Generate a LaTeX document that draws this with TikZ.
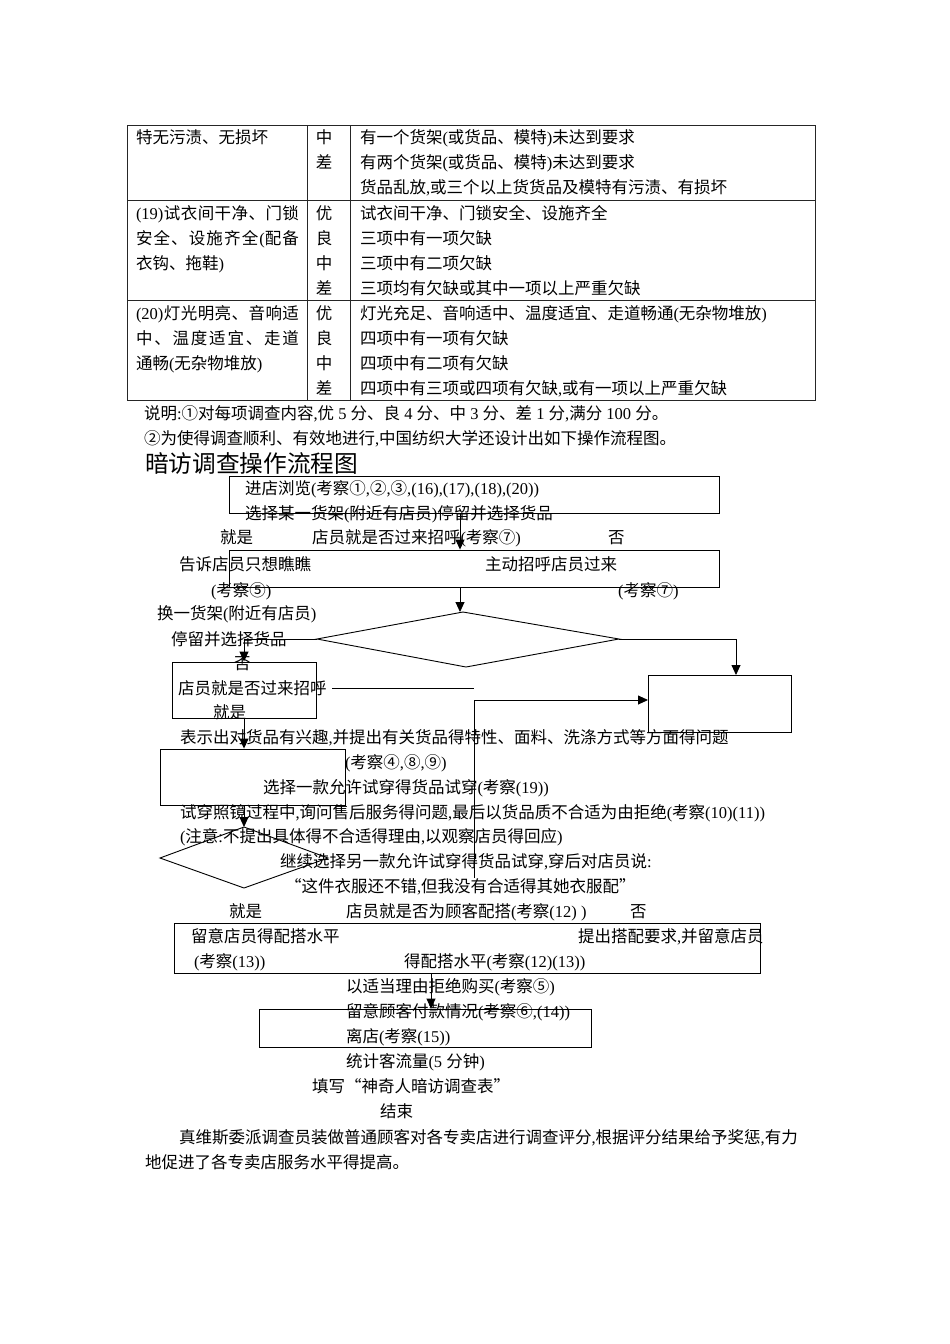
\documentclass[tikz,border=0pt]{standalone}
\usepackage{fontspec}
\setmainfont{Liberation Serif}
\newfontfamily\cjkf{Noto Sans CJK SC}
\newfontfamily\latf{Liberation Serif}
\usetikzlibrary{arrows.meta,fit}
\newXeTeXintercharclass\cjkclass
\makeatletter
\def\setcjkrange#1#2{\count@=#1\relax
  \loop\XeTeXcharclass\count@=\cjkclass\relax
  \ifnum\count@<#2\relax\advance\count@\@ne\repeat}
\setcjkrange{"2460}{"24FF}
\setcjkrange{"3000}{"303F}
\setcjkrange{"4E00}{"9FFF}
\setcjkrange{"FF00}{"FFEF}
\makeatother
\XeTeXcharclass"201C=\cjkclass
\XeTeXcharclass"201D=\cjkclass
\XeTeXinterchartoks 0 \cjkclass = {\cjkf}
\XeTeXinterchartoks 4095 \cjkclass = {\cjkf}
\XeTeXinterchartoks \cjkclass 0 = {\latf}
\XeTeXinterchartoks \cjkclass 4095 = {\latf}
\XeTeXinterchartokenstate=1
\newcommand\fsz{\fontsize{16.5}{20}\selectfont}
\newcommand\txtn[4]{\node[tx] (#1) at (#2,#3+6) {#4};}
\newcommand\ctxtn[4]{\node[txc] (#1) at (#2,#3+6) {#4};}
\newcommand\spr[1]{\makebox[163pt][l]{#1}}
\tikzset{
  tx/.style={anchor=base west, inner sep=0pt, outer sep=0pt, font=\fsz},
  txc/.style={anchor=base, inner sep=0pt, outer sep=0pt, font=\fsz},
  box/.style={draw=black, line width=0.9pt, inner sep=0pt, rectangle},
  arr/.style={line width=0.9pt, -{Triangle[length=10pt,width=9pt]}},
  ln/.style={line width=0.9pt},
  tbl/.style={line width=0.9pt, draw=black!85}
}
\begin{document}
\begin{tikzpicture}[x=1pt,y=-1pt]
\fill[white] (0,0) rectangle (950,1344);
\useasboundingbox (0,0) rectangle (950,1344);
% ---------- table ----------
\draw[tbl] (127,125) rectangle (815,400);
\draw[tbl] (307,125) -- (307,400);
\draw[tbl] (350,125) -- (350,400);
\draw[tbl] (127,200) -- (815,200);
\draw[tbl] (127,300) -- (815,300);
\txtn{r1a}{136}{137}{特无污渍、无损坏}
\ctxtn{r1m1}{324}{137}{中}
\ctxtn{r1m2}{324}{162}{差}
\txtn{r1c1}{360}{137}{有一个货架(或货品、模特)未达到要求}
\txtn{r1c2}{360}{162}{有两个货架(或货品、模特)未达到要求}
\txtn{r1c3}{360}{187}{货品乱放,或三个以上货货品及模特有污渍、有损坏}
\txtn{r2a1}{136}{213}{\spr{(19)\hfill{}试\hfill{}衣\hfill{}间\hfill{}干\hfill{}净\hfill{}、\hfill{}门\hfill{}锁}}
\txtn{r2a2}{136}{238}{\spr{安\hfill{}全\hfill{}、\hfill{}设\hfill{}施\hfill{}齐\hfill{}全\hfill{}(配\hfill{}备}}
\txtn{r2a3}{136}{263}{衣钩、拖鞋)}
\ctxtn{r2m1}{324}{213}{优}
\ctxtn{r2m2}{324}{238}{良}
\ctxtn{r2m3}{324}{263}{中}
\ctxtn{r2m4}{324}{288}{差}
\txtn{r2c1}{360}{213}{试衣间干净、门锁安全、设施齐全}
\txtn{r2c2}{360}{238}{三项中有一项欠缺}
\txtn{r2c3}{360}{263}{三项中有二项欠缺}
\txtn{r2c4}{360}{288}{三项均有欠缺或其中一项以上严重欠缺}
\txtn{r3a1}{136}{313}{\spr{(20)\hfill{}灯\hfill{}光\hfill{}明\hfill{}亮\hfill{}、\hfill{}音\hfill{}响\hfill{}适}}
\txtn{r3a2}{136}{338}{\spr{中\hfill{}、\hfill{}温\hfill{}度\hfill{}适\hfill{}宜\hfill{}、\hfill{}走\hfill{}道}}
\txtn{r3a3}{136}{363}{通畅(无杂物堆放)}
\ctxtn{r3m1}{324}{313}{优}
\ctxtn{r3m2}{324}{338}{良}
\ctxtn{r3m3}{324}{363}{中}
\ctxtn{r3m4}{324}{388}{差}
\txtn{r3c1}{360}{313}{灯光充足、音响适中、温度适宜、走道畅通(无杂物堆放)}
\txtn{r3c2}{360}{338}{四项中有一项有欠缺}
\txtn{r3c3}{360}{363}{四项中有二项有欠缺}
\txtn{r3c4}{360}{388}{四项中有三项或四项有欠缺,或有一项以上严重欠缺}
% ---------- notes ----------
\txtn{n1}{144}{413}{说明:①对每项调查内容,优 5 分、良 4 分、中 3 分、差 1 分,满分 100 分。}
\txtn{n2}{144}{438}{②为使得调查顺利、有效地进行,中国纺织大学还设计出如下操作流程图。}
\node[tx, font=\fontsize{23.7}{28}\selectfont] (title) at (145,463+9) {暗访调查操作流程图};
% ---------- flow boxes ----------
\node[box, fit={(229,476) (719,513)}] (b1) {};
\node[box, fit={(229,550) (719,587)}] (b2) {};
\node[box, fit={(172,662) (316,718)}] (b3) {};
\node[box, fit={(648,675) (791,732)}] (b5) {};
\node[box, fit={(160,749) (345,805)}] (b4) {};
\node[box, fit={(174,923) (760,973)}] (b6) {};
\node[box, fit={(259,1009) (591,1047)}] (b7) {};
% diamonds
\coordinate (d1l) at (317,639);
\coordinate (d1t) at (463,612);
\coordinate (d1r) at (619,639);
\coordinate (d1b) at (466,667);
\draw[ln] (d1l) -- (d1t) -- (d1r) -- (d1b) -- cycle;
\coordinate (d2l) at (160,858);
\coordinate (d2t) at (244,827);
\coordinate (d2r) at (328,858);
\coordinate (d2b) at (244,888);
\draw[ln] (d2l) -- (d2t) -- (d2r) -- (d2b) -- cycle;
% connectors
\coordinate (c1) at (460,513);
\draw[arr] (c1) -- (c1 |- b2.north);
\coordinate (c2) at (460,587);
\draw[arr] (c2) -- (c2 |- d1t);
\draw[arr] (d1l) -| (b3.north);
\coordinate (c5) at (736,675);
\draw[arr] (d1r) -| (c5);
\coordinate (c6a) at (332,688);
\coordinate (c6b) at (474,688);
\draw[ln] (c6a) -- (c6b);
\coordinate (c7a) at (474,878);
\coordinate (c7b) at (648,700);
\draw[arr] (c7a) |- (c7b);
\draw[arr] (b3.south) -- (b3.south |- b4.north);
\coordinate (c4) at (244,805);
\draw[arr] (c4) -- (d2t);
\coordinate (c8) at (431,973);
\draw[arr] (c8) -- (c8 |- b7.north);
% ---------- flow texts ----------
\txtn{f1}{245}{488}{进店浏览(考察①,②,③,(16),(17),(18),(20))}
\txtn{f2}{245}{513}{选择某一货架(附近有店员)停留并选择货品}
\txtn{f3}{220}{537}{就是}
\txtn{f4}{312}{537}{店员就是否过来招呼(考察⑦)}
\txtn{f5}{608}{537}{否}
\txtn{f6}{179}{564}{告诉店员只想瞧瞧}
\txtn{f7}{485}{564}{主动招呼店员过来}
\txtn{f8}{211}{590}{(考察⑤)}
\txtn{f9}{618}{590}{(考察⑦)}
\txtn{f10}{157}{613}{换一货架(附近有店员)}
\txtn{f11}{171}{639}{停留并选择货品}
\txtn{f12}{234}{663}{否}
\txtn{f13}{178}{688}{店员就是否过来招呼}
\txtn{f14}{213}{712}{就是}
\txtn{f15}{180}{737}{表示出对货品有兴趣,并提出有关货品得特性、面料、洗涤方式等方面得问题}
\txtn{f16}{345}{762}{(考察④,⑧,⑨)}
\txtn{f17}{263}{787}{选择一款允许试穿得货品试穿(考察(19))}
\txtn{f18}{180}{812}{试穿照镜过程中,询问售后服务得问题,最后以货品质不合适为由拒绝(考察(10)(11))}
\txtn{f19}{180}{836}{(注意:不提出具体得不合适得理由,以观察店员得回应)}
\txtn{f20}{280}{861}{继续选择另一款允许试穿得货品试穿,穿后对店员说:}
\txtn{f21}{285}{886}{“这件衣服还不错,但我没有合适得其她衣服配”}
\txtn{f22}{229}{911}{就是}
\txtn{f23}{346}{911}{店员就是否为顾客配搭(考察(12) )}
\txtn{f24}{630}{911}{否}
\txtn{f25}{191}{936}{留意店员得配搭水平}
\txtn{f26}{578}{936}{提出搭配要求,并留意店员}
\txtn{f27}{194}{961}{(考察(13))}
\txtn{f28}{404}{961}{得配搭水平(考察(12)(13))}
\txtn{f29}{346}{986}{以适当理由拒绝购买(考察⑤)}
\txtn{f30}{346}{1011}{留意顾客付款情况(考察⑥,(14))}
\txtn{f31}{346}{1036}{离店(考察(15))}
\txtn{f32}{346}{1061}{统计客流量(5 分钟)}
\txtn{f33}{312}{1086}{填写“神奇人暗访调查表”}
\txtn{f34}{380}{1111}{结束}
\txtn{p1}{179}{1137}{真维斯委派调查员装做普通顾客对各专卖店进行调查评分,根据评分结果给予奖惩,有力}
\txtn{p2}{145}{1162}{地促进了各专卖店服务水平得提高。}
\end{tikzpicture}
\end{document}
